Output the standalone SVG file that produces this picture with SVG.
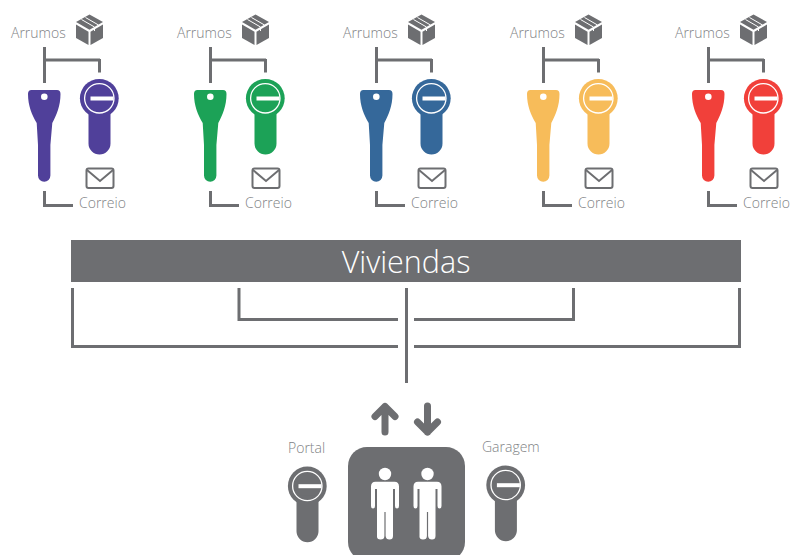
<svg xmlns="http://www.w3.org/2000/svg" width="791" height="555" viewBox="0 0 791 555">
<style>
text{font-family:"Open Sans","Noto Sans","Liberation Sans",sans-serif;font-weight:300;font-size:14px;fill:#808285}
.c{fill:none;stroke:#6d6e71;stroke-width:3}
.g{fill:#6d6e71}
</style>
<defs>
<g id="key"><path d="M31.500 90H57Q60.500 90 60.500 94C60.500 106 56.500 115 52.300 123L50.400 145V175.500A6 6 0 0 1 38 175.500V145L36.700 123C32 115 28 106 28 94Q28 90 31.500 90Z"/><circle cx="44.300" cy="96.700" r="3.300" fill="#fff"/></g>
<g id="cyl"><circle cx="99.300" cy="98.300" r="19.400"/><path d="M88.500 108H110.500V143.500A11 11 0 0 1 88.500 143.500Z"/><circle cx="99.300" cy="98.300" r="14.700" fill="none" stroke="#fff" stroke-width="1.300"/><rect x="90.500" y="96.500" width="23" height="4" fill="#fff"/></g>
<g id="box"><path class="g" d="M89.500 14.500L103 22L89.500 29.800L76 22Z"/><path class="g" d="M76 24.500L88.500 31.800V45L76 38Z"/><path class="g" d="M103 24.500L90.500 31.800V45L103 38Z"/><path d="M81.500 19.500L94.500 27V31M85.500 17.500L98.500 25" fill="none" stroke="#fff" stroke-width="1"/></g>
<g id="env"><rect x="86.500" y="168.500" width="27" height="19.500" rx="2" fill="#fff" stroke="#6d6e71" stroke-width="2"/><path d="M87 170L100 181L113 170" fill="none" stroke="#6d6e71" stroke-width="2"/></g>
<g id="lines" class="c"><path d="M44.500 47V83M44.500 60H100M99.500 59V72.500M44.500 191V205.500H73"/></g>
<g id="person"><circle cx="0" cy="474" r="6.200"/><path d="M-9.500 481.700H9.500Q14 481.700 14 486.500V506Q14 508.500 12 508.500T10 506V489H8V536Q8 539.500 4.500 539.500T0.600 536V512H-0.600V536Q-0.600 539.500 -4.500 539.500T-8 536V489H-10V506Q-10 508.500 -12 508.500T-14 506V486.500Q-14 481.700 -9.500 481.700Z"/></g>
</defs>
<g id="connectors">
<use href="#lines"/><use href="#lines" x="166"/><use href="#lines" x="332"/><use href="#lines" x="499"/><use href="#lines" x="664"/>
<path class="c" d="M72.500 288V346.500H398M414 346.500H739.500V288M239 288V319.500H398M414 319.500H573.500V288M406.500 288V383"/>
</g>
<g id="unit-1" fill="#50409a"><text x="11" y="38">Arrumos</text><use href="#box"/><use href="#key"/><use href="#cyl"/><use href="#env"/><text x="79" y="208">Correio</text></g>
<g id="unit-2" fill="#1ca257" transform="translate(166 0)"><text x="11" y="38">Arrumos</text><use href="#box"/><use href="#key"/><use href="#cyl"/><use href="#env"/><text x="79" y="208">Correio</text></g>
<g id="unit-3" fill="#35689a" transform="translate(332 0)"><text x="11" y="38">Arrumos</text><use href="#box"/><use href="#key"/><use href="#cyl"/><use href="#env"/><text x="79" y="208">Correio</text></g>
<g id="unit-4" fill="#f7bc5a" transform="translate(499 0)"><text x="11" y="38">Arrumos</text><use href="#box"/><use href="#key"/><use href="#cyl"/><use href="#env"/><text x="79" y="208">Correio</text></g>
<g id="unit-5" fill="#f1403a" transform="translate(664 0)"><text x="11" y="38">Arrumos</text><use href="#box"/><use href="#key"/><use href="#cyl"/><use href="#env"/><text x="79" y="208">Correio</text></g>
<g id="viviendas"><rect class="g" x="71" y="240" width="670" height="42"/><text x="406" y="273" text-anchor="middle" style="font-size:30.500px;fill:#fff">Viviendas</text></g>
<g id="arrows" fill="none" stroke="#6d6e71" stroke-width="7" stroke-linecap="round" stroke-linejoin="round"><path d="M385 432V406.500M375 416.500L385 406.500L395 416.500"/><path d="M427.500 406V432M417.500 422L427.500 432L437.500 422"/></g>
<g id="elevator"><rect class="g" x="348" y="447" width="117" height="114" rx="19"/><g fill="#fff"><use href="#person" x="385"/><use href="#person" x="427.500"/></g></g>
<g id="portal" fill="#6d6e71"><text x="288" y="453">Portal</text><use href="#cyl" x="208" y="387.700"/></g>
<g id="garagem" fill="#6d6e71"><text x="482" y="452">Garagem</text><use href="#cyl" x="406.400" y="386.700"/></g>
</svg>
